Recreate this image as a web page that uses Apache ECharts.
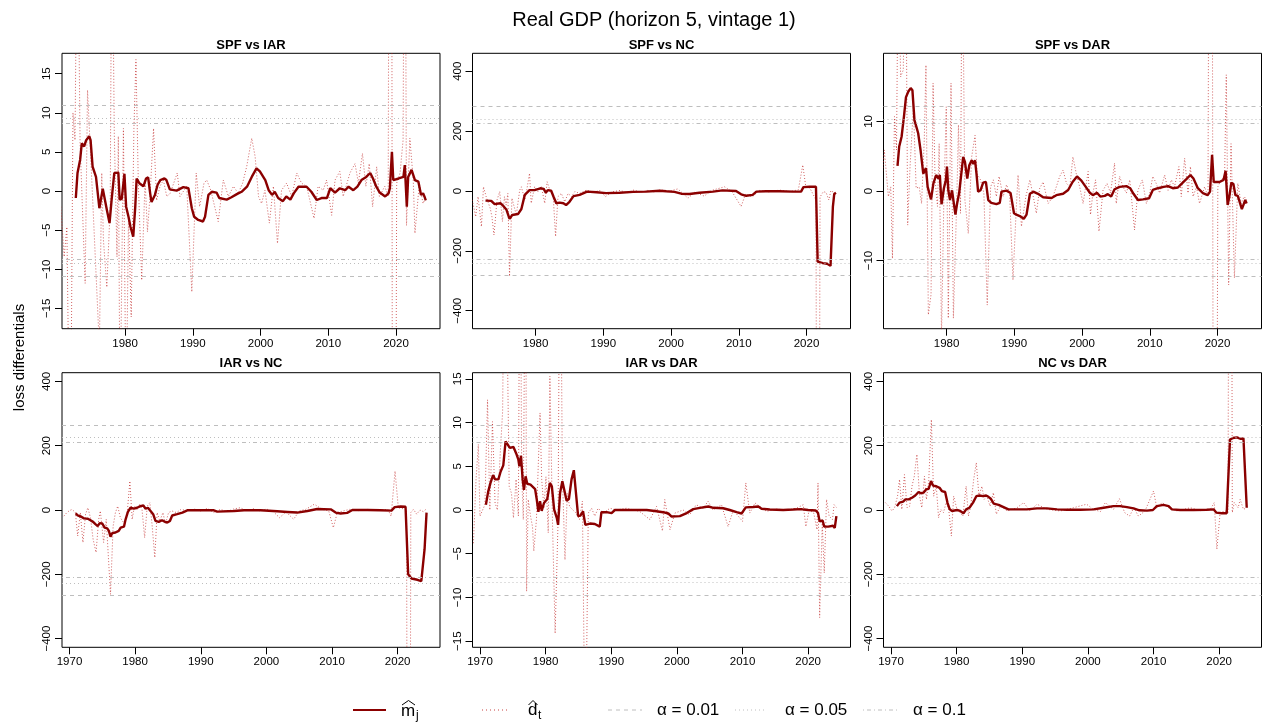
<!DOCTYPE html>
<html>
<head>
<meta charset="utf-8">
<title>Real GDP (horizon 5, vintage 1)</title>
<script src="https://cdn.jsdelivr.net/npm/echarts@6/dist/echarts.min.js"></script>
<style>
  html,body{margin:0;padding:0;background:#fff;}
  #main{width:1269px;height:727px;}
</style>
</head>
<body>
<div id="main"></div>
<script>
/* panel names and axis ticks */
const panelTitles = ["SPF vs IAR","SPF vs NC","SPF vs DAR","IAR vs NC","IAR vs DAR","NC vs DAR"];
const topYears = [1980,1990,2000,2010,2020];
const bottomYears = [1970,1980,1990,2000,2010,2020];
const yTicks = [
  [-15,-10,-5,0,5,10,15],
  [-400,-200,0,200,400],
  [-10,0,10],
  [-400,-200,0,200,400],
  [-15,-10,-5,0,5,10,15],
  [-400,-200,0,200,400]
];
const yLimits = [17.6,460,19.8,427,15.7,427];
// critical values: alpha 0.01, 0.05, 0.1
const critVals = [[10.9,9.27,8.7],[283,241,227],[12.2,10.37,9.76],[265,227,210],[9.73,8.3,7.7],[265,227,210]];

/* m_j (thick line) per panel : [year, value] */
const spfIarM = [[1972.72,-0.9],[1972.97,2.3],[1973.36,4.0],[1973.6,6.1],[1973.95,5.7],[1974.25,6.5],[1974.7,7.0],[1974.9,6.5],[1975.2,3.1],[1975.7,1.8],[1976.2,-2.2],[1976.4,-2.2],[1976.7,0.3],[1976.95,0.1],[1977.3,-2.4],[1977.7,-4.1],[1978.0,-1.2],[1978.4,2.3],[1978.65,2.1],[1979.0,2.35],[1979.2,-1.1],[1979.5,-1.0],[1979.9,2.2],[1980.15,-2.0],[1980.5,-3.3],[1980.8,-4.6],[1981.2,-5.85],[1981.5,-2.0],[1981.7,1.6],[1982.1,1.0],[1982.35,1.2],[1982.7,0.6],[1983.1,1.6],[1983.4,1.75],[1983.7,-0.3],[1983.9,-1.4],[1984.4,-0.5],[1984.8,0.8],[1985.2,1.4],[1985.8,1.6],[1986.1,1.4],[1986.6,0.2],[1987.6,0.05],[1988.6,0.5],[1989.35,0.35],[1989.85,-2.2],[1990.2,-3.3],[1990.8,-3.7],[1991.5,-3.9],[1991.8,-3.3],[1992.3,-0.5],[1992.8,-0.1],[1993.5,-0.2],[1993.9,-0.9],[1995.0,-1.1],[1995.7,-0.8],[1996.5,-0.4],[1997.2,-0.1],[1998.0,0.55],[1998.7,1.8],[1999.4,2.9],[1999.9,2.5],[2000.7,1.4],[2001.2,0.1],[2001.7,-0.5],[2002.1,-0.1],[2002.6,-0.9],[2003.3,-1.3],[2003.8,-0.7],[2004.4,-1.1],[2004.9,-0.3],[2005.6,0.55],[2006.8,0.55],[2007.5,-0.1],[2008.3,-1.15],[2009.0,-0.9],[2009.8,-0.9],[2010.3,0.35],[2011.0,-0.2],[2011.7,0.35],[2012.5,0.1],[2013.0,0.55],[2013.7,0.1],[2014.3,0.55],[2014.9,1.4],[2015.6,1.8],[2016.2,2.3],[2016.6,1.6],[2017.1,0.55],[2017.6,-0.2],[2018.4,-0.7],[2018.9,-0.3],[2019.1,0.35],[2019.4,5.0],[2019.6,1.4],[2020.4,1.6],[2021.1,1.8],[2021.3,3.3],[2021.6,-2.0],[2021.8,1.8],[2022.3,2.7],[2022.8,1.4],[2023.3,1.2],[2023.7,-0.5],[2024.0,-0.3],[2024.2,-0.7],[2024.4,-1.2]];
const spfNcM = [[1972.6,-32],[1973.45,-33],[1973.95,-44],[1974.2,-41],[1974.8,-41],[1975.2,-49],[1975.7,-63],[1976.15,-93],[1976.55,-80],[1977.4,-77],[1977.9,-60],[1978.4,-13],[1979.1,3],[1979.85,3],[1980.7,9],[1981.2,7],[1981.5,-6],[1981.8,3],[1982.3,1],[1982.65,-19],[1983.05,-41],[1983.55,-39],[1984.1,-41],[1984.5,-47],[1985.0,-36],[1985.6,-17],[1986.5,-13],[1987.6,-2],[1989.0,-4],[1990.4,-7],[1992.4,-6],[1994.4,-3],[1996.3,-2],[1998.3,1],[1999.3,-1],[2000.5,-3],[2001.5,-9],[2002.7,-10],[2004.2,-6],[2006.2,-2],[2007.6,2],[2009.6,0],[2010.35,-11],[2011.1,-16],[2012.05,-13],[2012.6,-2],[2014.0,-1],[2016.0,-1],[2018.0,-2],[2019.2,-2],[2019.55,13],[2020.45,14],[2021.4,14],[2021.65,-236],[2022.4,-241],[2023.05,-243],[2023.55,-250],[2023.9,-52],[2024.1,-10],[2024.35,-6]];
const spfDarM = [[1972.75,3.6],[1973.0,6.4],[1973.35,7.8],[1973.7,10.7],[1974.0,13.5],[1974.35,14.3],[1974.7,14.8],[1974.95,14.5],[1975.25,10.2],[1975.6,9.0],[1975.8,8.3],[1976.15,5.9],[1976.55,2.5],[1976.95,3.3],[1977.2,0.6],[1977.45,0.6],[1977.7,-1.2],[1978.05,1.1],[1978.45,2.3],[1978.8,1.8],[1979.0,2.3],[1979.25,-1.9],[1979.6,0.4],[1979.9,1.6],[1980.05,3.5],[1980.25,0.1],[1980.5,-1.3],[1980.8,0.1],[1981.0,-1.3],[1981.3,-3.4],[1981.55,-1.8],[1981.85,-0.3],[1982.1,-0.1],[1982.45,4.9],[1982.7,4.2],[1983.05,1.8],[1983.35,3.7],[1983.7,4.4],[1983.95,3.9],[1984.2,4.4],[1984.4,2.6],[1984.65,-0.1],[1985.0,0.1],[1985.4,1.2],[1985.8,1.3],[1986.15,-1.3],[1986.6,-1.7],[1987.35,-1.9],[1987.85,-1.7],[1988.1,-0.1],[1988.85,0.05],[1989.45,-0.3],[1989.95,-3.2],[1990.3,-3.4],[1990.8,-3.6],[1991.4,-4.0],[1991.8,-3.4],[1992.3,-0.4],[1992.8,-0.1],[1993.5,-0.4],[1994.25,-0.9],[1995.5,-1.0],[1996.2,-0.6],[1997.2,-0.4],[1997.95,0.15],[1998.6,1.3],[1999.25,2.1],[1999.9,1.5],[2000.55,0.6],[2001.15,-0.25],[2001.6,-0.6],[2002.2,-0.25],[2002.7,-0.8],[2003.35,-0.7],[2003.8,-0.45],[2004.3,-0.8],[2004.8,0.25],[2005.55,0.6],[2006.55,0.7],[2007.1,0.4],[2007.6,-0.4],[2008.25,-1.3],[2009.0,-1.2],[2009.9,-1.05],[2010.45,0.15],[2011.2,0.4],[2012.05,0.6],[2012.7,0.7],[2013.4,0.4],[2014.15,0.5],[2014.65,1.0],[2015.4,1.7],[2016.0,2.3],[2016.45,1.8],[2017.1,0.4],[2017.85,-0.3],[2018.55,-0.6],[2018.9,-0.1],[2019.2,5.2],[2019.45,1.3],[2020.3,1.3],[2020.9,1.6],[2021.2,2.9],[2021.5,-2.0],[2021.75,-0.8],[2022.05,1.2],[2022.35,1.0],[2022.65,-0.6],[2023.0,-0.7],[2023.25,-0.8],[2023.6,-2.6],[2023.85,-2.5],[2024.1,-1.3],[2024.3,-1.8]];
const iarNcM = [[1970.95,-10],[1971.25,-17],[1971.8,-21],[1972.2,-26],[1972.8,-27],[1973.2,-32],[1973.6,-37],[1973.95,-44],[1974.3,-50],[1974.6,-41],[1975.0,-42],[1975.35,-55],[1975.75,-57],[1976.0,-65],[1976.25,-83],[1976.5,-72],[1977.0,-70],[1977.5,-65],[1977.8,-55],[1978.3,-52],[1978.55,-29],[1978.9,-6],[1979.3,7],[1979.8,4],[1980.3,7],[1980.8,12],[1981.25,14],[1981.6,4],[1981.95,7],[1982.35,-3],[1982.75,-13],[1983.1,-34],[1983.6,-37],[1984.1,-32],[1984.5,-36],[1984.9,-39],[1985.3,-34],[1985.65,-17],[1986.4,-13],[1987.2,-8],[1987.95,-1],[1989.95,-1],[1992.0,-1],[1992.5,-5],[1995.05,-3],[1996.6,-1],[1999.1,-1],[2001.65,-4],[2003.2,-6],[2004.7,-8],[2006.25,-3],[2007.75,3],[2009.8,2],[2010.55,-8],[2011.3,-11],[2012.3,-9],[2013.1,0],[2015.4,0],[2017.4,-1],[2019.05,-2],[2019.55,9],[2020.45,11],[2021.2,10],[2021.6,-200],[2022.1,-213],[2023.0,-217],[2023.6,-221],[2023.9,-220],[2024.1,-122],[2024.4,-8]];
const iarDarM = [[1970.9,0.6],[1971.25,2.1],[1971.6,3.1],[1972.0,4.0],[1972.3,3.5],[1972.8,3.5],[1973.15,4.4],[1973.55,5.1],[1973.9,7.85],[1974.15,7.85],[1974.55,7.1],[1975.1,7.2],[1975.5,6.5],[1975.85,5.75],[1976.0,5.0],[1976.25,6.2],[1976.5,3.5],[1976.7,2.3],[1976.95,3.85],[1977.2,3.0],[1977.7,2.9],[1978.4,2.4],[1978.65,1.2],[1978.9,-0.2],[1979.15,1.0],[1979.4,-0.1],[1979.75,0.8],[1980.25,1.25],[1980.65,3.1],[1980.95,2.7],[1981.3,0.05],[1981.7,-0.9],[1981.9,-1.7],[1982.2,1.95],[1982.55,3.3],[1982.85,3.15],[1983.2,1.05],[1983.55,1.25],[1983.95,3.5],[1984.3,4.55],[1984.55,4.4],[1984.95,-0.7],[1985.3,-0.65],[1985.7,-0.15],[1986.05,-1.7],[1986.75,-1.55],[1987.5,-1.6],[1988.25,-1.9],[1988.5,-0.25],[1989.3,-0.25],[1990.05,-0.35],[1990.55,0],[1991.3,0],[1993.35,0],[1995.4,0],[1996.9,-0.15],[1997.9,-0.25],[1998.7,-0.4],[1999.2,-0.75],[2000.45,-0.7],[2001.5,-0.35],[2002.5,0.1],[2003.5,0.25],[2004.8,0.4],[2005.55,0.25],[2007.05,0.2],[2008.05,0],[2009.1,-0.25],[2009.85,-0.4],[2010.5,0.3],[2011.6,0.35],[2012.4,0.4],[2012.9,0.15],[2014.15,0.05],[2016.2,0],[2017.7,0.05],[2018.95,0.1],[2019.35,0.05],[2020.0,0],[2021.15,-0.05],[2021.5,-0.35],[2021.75,-1.3],[2022.2,-1.2],[2022.45,-1.9],[2023.05,-1.9],[2023.8,-1.8],[2024.05,-2.05],[2024.3,-0.7]];
const ncDarM = [[1970.9,12],[1971.3,23],[1971.85,26],[1972.2,33],[1972.7,33],[1973.2,38],[1973.7,45],[1974.2,56],[1974.55,52],[1974.95,54],[1975.35,64],[1975.75,66],[1976.1,90],[1976.4,76],[1976.9,74],[1977.4,69],[1977.75,59],[1978.25,56],[1978.6,23],[1978.95,2],[1979.3,-3],[1980.05,0],[1980.55,-3],[1981.05,-10],[1981.45,2],[1981.95,7],[1982.5,23],[1983.0,43],[1983.5,45],[1984.0,43],[1984.5,45],[1984.85,41],[1985.2,35],[1985.65,20],[1986.4,16],[1987.15,9],[1987.9,2],[1989.2,2],[1990.7,2],[1992.25,5],[1993.75,5],[1995.3,2],[1996.8,1],[1998.85,1],[2000.85,2],[2002.4,7],[2003.9,12],[2004.9,12],[2005.95,9],[2006.95,5],[2007.85,-1],[2009.0,-2],[2009.9,0],[2010.5,12],[2011.5,16],[2012.3,12],[2012.8,2],[2014.05,0],[2016.1,0],[2018.1,1],[2019.15,2],[2019.55,-8],[2020.4,-10],[2021.15,-10],[2021.65,219],[2022.1,224],[2022.7,226],[2023.3,221],[2023.7,223],[2023.95,221],[2024.2,7]];

/* d_t (dotted line) per panel : [year, value] */
const spfIarD = [[1970.5,-2],[1971.0,-8.4],[1971.4,-4.6],[1971.9,-40],[1972.3,10],[1972.6,6.5],[1972.95,40],[1973.35,6.1],[1974.1,-11.8],[1974.45,12.9],[1975.1,1.0],[1976.2,-20],[1976.55,2.3],[1976.8,-6.3],[1977.3,-12.3],[1977.8,-2],[1978.05,40],[1978.4,7.4],[1978.8,-8.4],[1979.0,7.0],[1979.25,-30],[1979.75,8.0],[1980.15,-30],[1980.5,-2.9],[1980.9,-16.1],[1981.3,8.0],[1981.6,16.8],[1981.95,1.0],[1982.45,-11.4],[1982.95,1.4],[1983.3,-5.2],[1983.7,-0.3],[1984.2,8.0],[1984.65,-1.2],[1985.15,0.6],[1985.65,1.4],[1986.15,-0.7],[1986.65,-0.3],[1987.7,2.3],[1988.1,-0.7],[1989.1,0.6],[1989.85,-12.9],[1990.5,2.3],[1991.0,-2.0],[1991.65,1.0],[1992.05,1.4],[1992.65,0.1],[1993.75,-3.9],[1994.5,1.4],[1995.25,-0.7],[1996.0,0.6],[1996.7,-0.3],[1997.35,1.0],[1997.95,3.1],[1998.7,6.75],[1999.2,4.4],[1999.7,-0.7],[2000.15,-1.6],[2000.65,0.1],[2001.3,-4.1],[2001.9,0.6],[2002.5,-6.7],[2003.1,0.1],[2003.85,1.0],[2004.6,-0.7],[2005.35,2.3],[2006.05,1.0],[2006.8,0.6],[2007.9,-3.5],[2008.5,0.6],[2009.25,0.1],[2009.75,1.4],[2010.5,-3.1],[2011.0,1.4],[2011.7,2.5],[2012.2,-0.7],[2013.2,2.3],[2013.95,3.5],[2014.45,1.0],[2015.05,4.8],[2015.55,0.6],[2016.05,3.5],[2016.55,-2.0],[2017.15,3.1],[2017.55,-0.7],[2018.35,0.6],[2018.85,-0.7],[2019.25,150],[2019.6,-150],[2020.1,1.0],[2020.6,2.3],[2021.05,6.5],[2021.3,60],[2021.55,-4.4],[2022.05,6.75],[2022.55,1.4],[2022.8,-5.4],[2023.45,1.0],[2024.0,-1.6],[2024.4,-0.8]];
const spfNcD = [[1970.5,-20],[1970.75,-41],[1971.15,-86],[1971.5,-19],[1972.0,-119],[1972.3,14],[1972.7,-19],[1973.3,-58],[1973.55,-86],[1973.85,-147],[1974.3,-30],[1974.7,-2],[1975.1,-102],[1975.4,-19],[1975.65,-47],[1975.9,-8],[1976.15,-285],[1976.5,-24],[1976.75,-19],[1977.15,-80],[1977.65,3],[1977.9,14],[1978.4,-30],[1978.65,-2],[1979.1,59],[1979.35,-41],[1979.85,14],[1980.35,-2],[1980.85,14],[1981.35,-41],[1981.7,31],[1982.1,3],[1982.6,-19],[1982.95,-152],[1983.3,-19],[1983.8,-8],[1984.3,-36],[1984.8,-8],[1985.3,-19],[1985.8,-2],[1986.5,-8],[1987.5,3],[1988.5,-4],[1989.5,2],[1990.3,-19],[1991.3,-3],[1992.5,2],[1993.5,-6],[1994.5,3],[1995.5,-4],[1996.5,2],[1997.5,-3],[1998.5,4],[1999.5,-2],[2001.0,7],[2002.5,-24],[2003.5,-4],[2004.9,-17],[2006.0,2],[2007.9,14],[2009.0,-2],[2010.35,-52],[2011.0,-10],[2012.0,-20],[2013.0,2],[2014.5,-3],[2016.0,3],[2017.5,-2],[2018.8,4],[2019.45,87],[2019.9,14],[2020.5,10],[2021.4,-30],[2021.7,-3000],[2022.0,-20],[2022.5,-2],[2022.9,-5],[2023.3,-30],[2023.6,1],[2024.3,-8]];
const spfDarD = [[1970.5,2],[1970.8,5.9],[1971.4,-0.8],[1971.75,0.6],[1972.0,-9.7],[1972.3,10.7],[1972.6,5.9],[1972.9,40],[1973.2,16.4],[1973.6,17.4],[1973.95,40],[1974.25,-4.9],[1974.6,3.5],[1975.1,12.1],[1975.5,0.4],[1975.95,0.6],[1976.3,-1.8],[1976.7,7.3],[1976.95,18.1],[1977.3,-17.8],[1977.7,-14.9],[1978.0,15.5],[1978.3,1.6],[1978.65,-2.2],[1978.9,6.8],[1979.25,-21],[1979.6,-0.8],[1979.95,12.1],[1980.25,-18.3],[1980.65,15.5],[1981.0,-18.3],[1981.5,-1.3],[1981.75,9.5],[1982.05,-3.2],[1982.3,40],[1982.7,-1.3],[1983.2,-6.1],[1983.7,4.9],[1984.2,8.0],[1984.5,2.5],[1985.0,1.6],[1985.5,-0.3],[1986.0,-16.4],[1986.5,0.6],[1986.9,1.6],[1987.35,-0.8],[1987.75,2.1],[1988.35,-0.8],[1988.85,0.9],[1989.3,-0.3],[1989.8,-12.8],[1990.3,-2.2],[1990.55,2.3],[1991.05,-5.1],[1991.7,-0.8],[1992.3,1.6],[1992.8,-0.8],[1993.25,-3.2],[1993.75,0.4],[1994.25,1.3],[1995.0,-1.8],[1995.7,-0.8],[1996.2,0.6],[1996.7,2.1],[1997.2,3.0],[1997.7,1.1],[1998.2,0.6],[1998.65,4.9],[1999.15,2.5],[1999.65,0.6],[2000.15,-1.8],[2000.9,2.8],[2001.25,-3.4],[2001.6,-0.3],[2002.0,1.6],[2002.5,-5.8],[2003.1,0.1],[2003.7,1.1],[2004.2,-0.3],[2004.8,4.0],[2005.05,-1.8],[2005.55,2.1],[2006.05,0.6],[2006.55,-0.3],[2007.05,1.6],[2007.75,-5.6],[2008.25,0.1],[2008.9,1.6],[2009.5,-1.8],[2010.0,-0.3],[2010.45,2.1],[2010.95,1.1],[2011.45,-0.3],[2012.2,2.3],[2012.7,0.1],[2013.2,1.6],[2013.65,0.6],[2014.3,3.5],[2014.65,-0.8],[2015.15,4.7],[2015.65,-0.3],[2016.0,3.5],[2016.4,-0.8],[2016.9,0.6],[2017.35,-1.8],[2018.1,0.6],[2018.6,-0.8],[2019.05,150],[2019.55,-150],[2020.05,0.6],[2020.55,1.6],[2021.05,2.1],[2021.3,16.7],[2021.65,-13.5],[2022.0,6.8],[2022.5,-12.5],[2023.0,1.1],[2023.5,-1.8],[2023.95,-0.8],[2024.3,-1.3]];
const iarNcD = [[1969.15,-19],[1969.6,-8],[1970.0,-2],[1970.4,2],[1970.9,-8],[1971.25,-81],[1971.65,-8],[1972.05,-101],[1972.45,-13],[1972.8,7],[1973.2,-24],[1973.6,-91],[1974.05,-132],[1974.45,-29],[1974.7,-3],[1975.2,-101],[1975.6,-29],[1975.85,-34],[1976.25,-262],[1976.65,-50],[1977.0,-8],[1977.35,12],[1977.75,-24],[1978.4,-44],[1978.8,-8],[1979.2,90],[1979.55,-29],[1979.9,12],[1980.3,2],[1980.7,17],[1981.05,2],[1981.45,-86],[1981.85,12],[1982.25,23],[1982.6,-50],[1983.0,-148],[1983.35,-8],[1983.75,-34],[1984.25,-8],[1984.6,-44],[1985.1,-8],[1985.6,-3],[1986.3,-8],[1987.0,2],[1988.0,-3],[1989.0,3],[1990.0,-3],[1991.0,5],[1992.0,-8],[1993.0,2],[1994.0,-5],[1995.0,3],[1996.0,7],[1997.0,-2],[1998.0,4],[1999.0,-3],[2000.0,3],[2001.0,-4],[2002.0,-24],[2003.0,-6],[2004.15,-29],[2005.0,-3],[2006.0,2],[2007.3,18],[2008.5,2],[2009.5,-3],[2010.2,-55],[2010.8,-8],[2011.7,-3],[2012.7,2],[2014.0,-2],[2015.5,2],[2017.0,-2],[2018.5,2],[2019.0,-19],[2019.6,121],[2020.1,7],[2020.8,4],[2021.35,2],[2021.7,-3000],[2022.0,-8],[2022.4,2],[2022.9,-13],[2023.4,0],[2023.9,-5],[2024.3,2]];
const iarDarD = [[1969.0,-3.8],[1969.4,3.5],[1969.75,7.5],[1970.0,-0.7],[1970.4,0],[1970.75,0.6],[1971.15,12.6],[1971.5,0],[1971.9,10.1],[1972.3,0.8],[1972.65,0],[1973.05,5.95],[1973.45,11.3],[1973.8,40],[1974.05,40],[1974.45,2.7],[1974.8,1.9],[1975.1,-0.9],[1975.5,3.5],[1975.85,-0.7],[1976.1,40],[1976.35,4.2],[1976.6,-1.1],[1976.95,40],[1977.1,-9.3],[1977.35,1.2],[1977.7,-0.7],[1978.0,-1.9],[1978.2,-4.7],[1978.6,-1.1],[1979.15,11.1],[1979.4,3.5],[1979.75,0.2],[1980.05,3.8],[1980.4,-2.6],[1980.65,15.3],[1981.05,-1.5],[1981.45,-14.1],[1981.9,-1.1],[1982.2,40],[1982.55,4.2],[1982.95,-5.7],[1983.3,1.9],[1983.65,0.4],[1984.15,0],[1984.65,-0.35],[1985.15,-1.1],[1985.6,1.0],[1986.05,-30],[1986.5,-0.35],[1987.0,0.2],[1987.5,-0.7],[1988.0,0.2],[1988.8,-0.35],[1989.8,0.2],[1990.8,0],[1992.3,0.2],[1994.3,-0.15],[1995.9,-1.1],[1996.9,0.4],[1997.8,-2.4],[1998.15,1.2],[1998.95,-2.25],[1999.7,-0.35],[2000.95,0],[2001.95,-0.55],[2002.95,0.6],[2004.0,0.2],[2004.75,1.0],[2005.5,0],[2006.8,0.6],[2007.8,-1.9],[2008.6,0],[2010.0,-1.3],[2010.5,3.1],[2011.1,-0.35],[2011.9,0.8],[2012.65,0.4],[2013.65,-0.15],[2015.2,0.1],[2016.7,0],[2018.2,0.2],[2019.25,0.6],[2019.65,-1.9],[2020.15,0],[2020.85,-0.35],[2021.35,-2.25],[2021.5,3.1],[2021.75,-12.3],[2022.15,-1.5],[2022.45,-7.2],[2022.8,1.2],[2023.2,-0.7],[2023.7,-1.1],[2023.95,0.6],[2024.3,0.3]];
const ncDarD = [[1969.15,23],[1969.65,12],[1970.15,-3],[1970.55,7],[1971.0,43],[1971.3,95],[1971.65,2],[1972.05,110],[1972.45,7],[1972.85,12],[1973.2,74],[1973.55,105],[1973.95,173],[1974.35,43],[1974.7,7],[1975.1,105],[1975.4,33],[1975.75,90],[1976.15,281],[1976.5,43],[1976.9,74],[1977.25,-24],[1977.6,2],[1978.0,-8],[1978.4,23],[1978.8,2],[1979.2,-81],[1979.55,43],[1980.05,2],[1980.55,-8],[1980.95,-19],[1981.45,74],[1981.8,-19],[1982.15,12],[1982.6,95],[1983.0,147],[1983.4,43],[1983.85,74],[1984.2,33],[1984.6,43],[1985.1,12],[1985.6,54],[1986.05,-13],[1986.7,12],[1987.7,-3],[1989.2,7],[1990.2,23],[1991.2,-3],[1992.25,18],[1993.8,2],[1995.8,-3],[1997.8,7],[1999.8,18],[2000.85,2],[2001.9,-5],[2002.65,23],[2003.9,2],[2004.8,35],[2005.6,-8],[2006.35,-19],[2007.0,7],[2007.7,-19],[2008.7,-3],[2010.0,59],[2010.5,7],[2011.3,23],[2012.3,7],[2013.6,-3],[2015.6,7],[2017.1,-2],[2018.6,0],[2019.25,23],[2019.65,-122],[2020.15,-8],[2020.9,-3],[2021.35,-8],[2021.7,3000],[2022.0,-8],[2022.3,23],[2022.9,7],[2023.2,33],[2023.7,2],[2024.2,7]];

const mjData = [spfIarM, spfNcM, spfDarM, iarNcM, iarDarM, ncDarM];
const dtData = [spfIarD, spfNcD, spfDarD, iarNcD, iarDarD, ncDarD];

/* layout */
const FONT = '"Liberation Sans", Arial, Helvetica, sans-serif';
const colLeft = [62, 472.5, 883.5];
const colWidth = 378;
const rowTop = [53.3, 372.7];
const rowHeight = [275.4, 274.6];
const xRange = [[1970.68, 2026.5], [1968.86, 2026.45]];

const MJ_COLOR = "#8B0000";
const DT_COLOR = "rgba(190,30,30,0.7)";
const CRIT_COLOR = "#bebebe";
const DASH = [4, 4], DOT = [1, 3], DOTDASH = [1, 3, 4, 3];

const minusFmt = v => (v < 0 ? "\u2212" + Math.abs(v) : String(v));

const grids = [], xAxes = [], yAxes = [], series = [], graphics = [];

for (let i = 0; i < 6; i++) {
  const row = Math.floor(i / 3), col = i % 3;
  const years = row === 0 ? topYears : bottomYears;

  grids.push({
    left: colLeft[col], top: rowTop[row], width: colWidth, height: rowHeight[row],
    show: true, borderColor: "#000", borderWidth: 1, backgroundColor: "transparent",
    containLabel: false, outerBoundsMode: "none"
  });

  xAxes.push({
    type: "value", gridIndex: i, min: xRange[row][0], max: xRange[row][1],
    axisLine: { show: false, onZero: false },
    splitLine: { show: false },
    axisTick: { show: true, inside: false, length: 7, customValues: years, lineStyle: { color: "#000", width: 1 } },
    axisLabel: { show: true, customValues: years, formatter: v => String(v), margin: 9,
                 fontSize: 11.5, color: "#000", fontFamily: FONT }
  });

  yAxes.push({
    type: "value", gridIndex: i, min: -yLimits[i], max: yLimits[i],
    axisLine: { show: false, onZero: false },
    splitLine: { show: false },
    axisTick: { show: true, inside: false, length: 7, customValues: yTicks[i], lineStyle: { color: "#000", width: 1 } },
    axisLabel: { show: true, customValues: yTicks[i], formatter: minusFmt, rotate: 90, margin: 9,
                 fontSize: 11.5, color: "#000", fontFamily: FONT }
  });

  const [c01, c05, c10] = critVals[i];
  series.push({
    name: "d_t " + panelTitles[i], type: "line", xAxisIndex: i, yAxisIndex: i,
    data: dtData[i], symbol: "none", clip: true, z: 2,
    lineStyle: { color: DT_COLOR, width: 1, type: [1, 2] },
    markLine: {
      silent: true, symbol: ["none", "none"], label: { show: false }, animation: false,
      lineStyle: { color: CRIT_COLOR, width: 1 },
      data: [
        { yAxis: c01, lineStyle: { type: DASH, color: CRIT_COLOR } },
        { yAxis: -c01, lineStyle: { type: DASH, color: CRIT_COLOR } },
        { yAxis: c05, lineStyle: { type: DOT, color: CRIT_COLOR } },
        { yAxis: -c05, lineStyle: { type: DOT, color: CRIT_COLOR } },
        { yAxis: c10, lineStyle: { type: DOTDASH, color: CRIT_COLOR } },
        { yAxis: -c10, lineStyle: { type: DOTDASH, color: CRIT_COLOR } }
      ]
    }
  });
  series.push({
    name: "m_j " + panelTitles[i], type: "line", xAxisIndex: i, yAxisIndex: i,
    data: mjData[i], symbol: "none", clip: true, z: 3,
    lineStyle: { color: MJ_COLOR, width: 2.4 }
  });

  // panel title
  graphics.push({
    type: "text", x: colLeft[col] + colWidth / 2, y: row === 0 ? 45.5 : 363,
    style: { text: panelTitles[i], font: "bold 13px " + FONT, fill: "#000", align: "center", verticalAlign: "middle" }
  });
}

/* main title, y label */
graphics.push({
  type: "text", x: 654, y: 20,
  style: { text: "Real GDP (horizon 5, vintage 1)", font: "20px " + FONT, fill: "#000", align: "center", verticalAlign: "middle" }
});
graphics.push({
  type: "text", x: 20, y: 357.5, rotation: Math.PI / 2,
  style: { text: "loss differentials", font: "15px " + FONT, fill: "#000", align: "center", verticalAlign: "middle" }
});

/* legend (bottom) */
const LY = 710;
const legendLine = (x1, x2, stroke, width, dash) => ({
  type: "line", shape: { x1, y1: LY, x2, y2: LY },
  style: { stroke, lineWidth: width, lineDash: dash }
});
const legendText = (x, y, text, size) => ({
  type: "text", x, y,
  style: { text, font: size + "px " + FONT, fill: "#000", align: "left", verticalAlign: "middle" }
});
const hat = (x1, x2) => ({
  type: "polyline", shape: { points: [[x1, 705], [(x1 + x2) / 2, 700.5], [x2, 705]] },
  style: { stroke: "#000", lineWidth: 1, fill: null }
});

graphics.push(
  legendLine(353, 386, MJ_COLOR, 2, null),
  legendText(401, 711, "m", 17), legendText(416, 716, "j", 12), hat(402, 415),
  legendLine(482, 510, "rgba(190,30,30,0.85)", 1, [1, 3]),
  legendText(528, 710, "d", 17), legendText(538, 716, "t", 12), hat(528.5, 537.5),
  legendLine(608, 642, CRIT_COLOR, 1, DASH),
  legendText(657, 710, "\u03b1 = 0.01", 17),
  legendLine(735, 765, CRIT_COLOR, 1, DOT),
  legendText(785, 710, "\u03b1 = 0.05", 17),
  legendLine(863, 897, CRIT_COLOR, 1, DOTDASH),
  legendText(913, 710, "\u03b1 = 0.1", 17)
);

const chart = echarts.init(document.getElementById("main"), null, { renderer: "canvas" });
chart.setOption({
  animation: false,
  backgroundColor: "#fff",
  textStyle: { fontFamily: FONT },
  grid: grids,
  xAxis: xAxes,
  yAxis: yAxes,
  series: series,
  graphic: graphics
});
</script>
</body>
</html>
